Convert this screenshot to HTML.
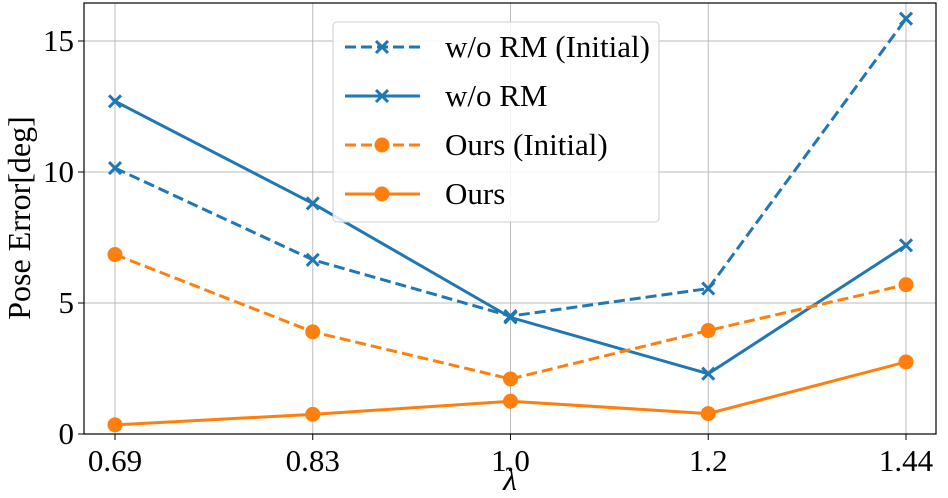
<!DOCTYPE html>
<html><head><meta charset="utf-8"><style>
body{margin:0;background:#fff}
svg{display:block;font-family:"Liberation Serif",serif}
</style></head><body>
<svg id="chart" width="948" height="498"></svg>
<script>
const categories=["0.69","0.83","1.0","1.2","1.44"];
const yTicks=[0,5,10,15];
const woRMInitial=[10.15,6.65,4.5,5.55,15.85];
const woRM=[12.7,8.8,4.45,2.3,7.2];
const oursInitial=[6.85,3.9,2.1,3.95,5.7];
const ours=[0.35,0.75,1.25,0.78,2.75];
const seriesNames=["w/o RM (Initial)","w/o RM","Ours (Initial)","Ours"];

const NS="http://www.w3.org/2000/svg";
const svg=document.getElementById('chart');
const L=84,R=936,T=3,B=434;
function x(i){return 115+i*(906-115)/(categories.length-1);}
function y(v){return 434-v*(434-41)/15;}
function mk(tag,attrs,parent){const e=document.createElementNS(NS,tag);for(const k in attrs)e.setAttribute(k,attrs[k]);(parent||svg).appendChild(e);return e;}

categories.forEach((c,i)=>{const g=mk('line',{x1:x(i),x2:x(i),y1:T,y2:B,stroke:'#b0b0b0','stroke-width':1,opacity:0.85});

});
yTicks.forEach(v=>{const g=mk('line',{x1:L,x2:R,y1:y(v),y2:y(v),stroke:'#b0b0b0','stroke-width':1,opacity:0.85});

});
const fr=mk('rect',{x:L,y:T,width:R-L,height:B-T,fill:'none',stroke:'#000','stroke-width':1.2});


categories.forEach((c,i)=>{mk('line',{x1:x(i),x2:x(i),y1:B,y2:B+6,stroke:'#000'});
const t=mk('text',{x:x(i),y:B+37,'text-anchor':'middle','font-size':31});t.textContent=c;

});
yTicks.forEach(v=>{mk('line',{x1:L-6,x2:L,y1:y(v),y2:y(v),stroke:'#000'});
const t=mk('text',{x:L-10,y:y(v)+10,'text-anchor':'end','font-size':31});t.textContent=v;

});
const xl=mk('text',{x:510,y:490,'text-anchor':'middle','font-size':32,'font-style':'italic'});xl.textContent='λ';


const yl=mk('text',{x:0,y:0,'text-anchor':'middle','font-size':32,transform:'translate(30,218) rotate(-90)'});yl.textContent='Pose Error[deg]';



const blue='#1f77b4',orange='#ff7f0e';
const specs=[[woRMInitial,blue,true,'x'],[woRM,blue,false,'x'],[oursInitial,orange,true,'o'],[ours,orange,false,'o']];
function marker(px,py,col,type,parent){
  if(type==='x'){mk('path',{d:`M${px-6},${py-6}L${px+6},${py+6}M${px-6},${py+6}L${px+6},${py-6}`,stroke:col,'stroke-width':3},parent);}
  else mk('circle',{cx:px,cy:py,r:7.5,fill:col},parent);
}
specs.forEach((s,k)=>{
  const g=mk('g',{});
  
  
  const pts=s[0].map((v,i)=>x(i)+','+y(v)).join(' ');
  mk('polyline',{points:pts,fill:'none',stroke:s[1],'stroke-width':3,'stroke-dasharray':s[2]?'11,5':'none'},g);
  s[0].forEach((v,i)=>marker(x(i),y(v),s[1],s[3],g));
});
const lg=mk('g',{});


mk('rect',{x:333,y:22,width:326,height:200,rx:4,fill:'#fff','fill-opacity':0.85,stroke:'#ccc'},lg);
specs.forEach((s,k)=>{
  const ly=47+k*49;
  mk('line',{x1:345,x2:420,y1:ly,y2:ly,stroke:s[1],'stroke-width':3,'stroke-dasharray':s[2]?'11,5':'none'},lg);
  marker(382,ly,s[1],s[3],lg);
  const t=mk('text',{x:445,y:ly+10,'font-size':31},lg);t.textContent=seriesNames[k];
  
  
});
</script>
</body></html>
